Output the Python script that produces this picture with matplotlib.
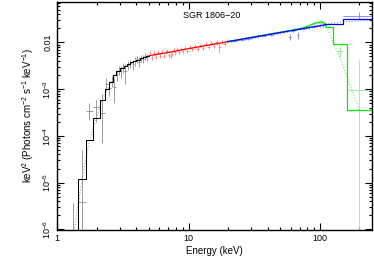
import matplotlib
matplotlib.use("Agg")
import matplotlib.pyplot as plt
import numpy as np
from matplotlib.ticker import FixedLocator, NullFormatter, LogLocator

plt.rcParams['font.family'] = ['Liberation Sans', 'DejaVu Sans']
plt.rcParams['mathtext.fontset'] = 'custom'
plt.rcParams['mathtext.rm'] = 'Liberation Sans'
plt.rcParams['mathtext.it'] = 'Liberation Sans:italic'
plt.rcParams['mathtext.bf'] = 'Liberation Sans:bold'

# --- low-energy (black) data ---
e_blk = [1.32, 1.55, 1.75, 1.98, 2.20, 2.35, 2.50, 2.62, 2.72, 2.85, 2.95, 3.05,
         3.15, 3.30, 3.45, 3.60, 3.75, 3.90, 4.05, 4.20, 4.35, 4.50, 4.65, 4.85]
v_blk = [1.2e-6, 3.9e-6, 3.4e-4, 4.2e-4, 3.1e-4, 1.3e-3, 1.05e-3, 1.5e-3, 1.1e-3, 2.0e-3,
         2.6e-3, 2.4e-3, 2.9e-3, 2.4e-3, 3.3e-3, 3.6e-3, 3.4e-3, 4.0e-3, 4.4e-3, 3.9e-3,
         4.6e-3, 4.5e-3, 5.0e-3, 4.8e-3]
v_blk_lo = [1e-8, 1e-8, 2.2e-4, 2.0e-4, 7e-5, 9e-4, 7e-4, 1.1e-3, 5e-4, 1.5e-3, 2.0e-3, 1.7e-3,
            2.2e-3, 1.3e-3, 2.6e-3, 2.9e-3, 2.6e-3, 3.2e-3, 3.6e-3, 3.0e-3, 3.8e-3, 3.7e-3,
            4.2e-3, 4.0e-3]
v_blk_hi = [3.7e-6, 5e-5, 5e-4, 6e-4, 8e-4, 1.7e-3, 1.5e-3, 1.9e-3, 1.7e-3, 2.5e-3, 3.2e-3,
            3.1e-3, 3.6e-3, 3.4e-3, 4.0e-3, 4.3e-3, 4.2e-3, 4.8e-3, 5.2e-3, 4.8e-3, 5.4e-3,
            5.3e-3, 5.8e-3, 5.6e-3]
e_blk_lo = [1.32, 1.44, 1.65, 1.87, 2.10, 2.30, 2.42, 2.56, 2.68, 2.78, 2.90, 3.00,
            3.10, 3.22, 3.38, 3.52, 3.68, 3.82, 3.98, 4.12, 4.28, 4.42, 4.58, 4.75]
e_blk_hi = [1.32, 1.67, 1.87, 2.10, 2.30, 2.42, 2.56, 2.68, 2.78, 2.90, 3.00, 3.10,
            3.22, 3.38, 3.52, 3.68, 3.82, 3.98, 4.12, 4.28, 4.42, 4.58, 4.75, 4.95]

blk_edges = [1.45, 1.65, 1.87, 2.10, 2.30, 2.50, 2.68, 2.80, 3.0, 3.2, 3.4, 3.6, 3.8,
             4.0, 4.25, 4.5, 4.75, 5.0]
blk_step = [1.17e-5, 8.0e-5, 2.36e-4, 5.9e-4, 1.03e-3, 1.44e-3, 2.0e-3, 2.4e-3, 2.8e-3,
            3.15e-3, 3.5e-3, 3.8e-3, 4.05e-3, 4.3e-3, 4.6e-3, 4.85e-3, 5.1e-3]
e_blk_dot = [1.33, 1.55, 1.76, 1.98, 2.20, 2.40, 2.60, 2.80]
v_blk_dot = [8e-7, 1.2e-5, 8e-5, 2.4e-4, 5.9e-4, 1.0e-3, 1.45e-3, 2.1e-3]

# --- red data ---
e_red = [5.1, 5.3, 5.5, 5.7, 5.9, 6.1, 6.3, 6.5, 6.7, 6.9, 7.1, 7.3, 7.5, 7.7, 7.9, 8.2,
         8.5, 8.8, 9.1, 9.4, 9.8, 10.2, 10.7, 11.2, 11.7, 12.3, 12.9, 13.5, 14.2, 14.9,
         15.6, 16.4, 17.2, 18.0, 18.9, 19.7]
v_red = [5.9e-3, 4.7e-3, 5.9e-3, 4.9e-3, 6.2e-3, 5.1e-3, 6.4e-3, 5.2e-3, 6.3e-3, 6.6e-3,
         5.5e-3, 5.2e-3, 5.6e-3, 6.9e-3, 6.1e-3, 7.1e-3, 6.2e-3, 7.3e-3, 6.4e-3, 7.5e-3,
         6.7e-3, 7.9e-3, 7.1e-3, 8.3e-3, 7.3e-3, 8.6e-3, 7.7e-3, 9.1e-3, 8.1e-3, 9.7e-3,
         8.5e-3, 1.0e-2, 7.8e-3, 1.03e-2, 9.4e-3, 1.08e-2]
err_red = [5e-4, 5e-4, 5e-4, 5e-4, 6e-4, 5e-4, 6e-4, 5e-4, 6e-4, 6e-4, 6e-4, 6e-4, 6e-4,
           6e-4, 6e-4, 6e-4, 6e-4, 7e-4, 7e-4, 7e-4, 7e-4, 7e-4, 7e-4, 8e-4, 8e-4, 8e-4,
           8e-4, 9e-4, 9e-4, 1.0e-3, 1.0e-3, 1.1e-3, 2.0e-3, 1.1e-3, 1.1e-3, 1.1e-3]
e_red_mod = [5.0, 7.0, 10.0, 14.0, 20.0]
v_red_mod = [5.2e-3, 6.1e-3, 7.35e-3, 8.7e-3, 1.04e-2]

# --- blue data ---
e_blu = [21, 22.5, 24, 25.5, 27, 28.5, 30, 32, 34, 36, 38, 40, 42.5, 45, 47.5, 50, 53, 56,
         59, 62, 65, 68, 71, 75, 79, 83, 87, 91, 95, 100, 105]
v_blu = [1.08e-2, 1.09e-2, 1.15e-2, 1.14e-2, 1.20e-2, 1.21e-2, 1.24e-2, 1.33e-2, 1.34e-2,
         1.40e-2, 1.39e-2, 1.49e-2, 1.47e-2, 1.56e-2, 1.57e-2, 1.64e-2, 1.66e-2, 1.75e-2,
         1.30e-2, 1.79e-2, 1.88e-2, 1.45e-2, 1.95e-2, 1.97e-2, 2.07e-2, 2.09e-2, 2.16e-2,
         2.18e-2, 2.24e-2, 2.28e-2, 2.35e-2]
err_blu = [5e-4, 5e-4, 5e-4, 5e-4, 6e-4, 6e-4, 6e-4, 7e-4, 7e-4, 7e-4, 8e-4, 8e-4, 8e-4,
           9e-4, 9e-4, 1.0e-3, 1.0e-3, 1.1e-3, 2.0e-3, 1.1e-3, 1.2e-3, 2.5e-3, 1.2e-3,
           1.3e-3, 1.3e-3, 1.4e-3, 1.4e-3, 1.5e-3, 1.5e-3, 1.6e-3, 1.7e-3]
e_blu_mod = [20, 30, 40, 50, 60, 70, 80, 90, 100, 110]
v_blu_mod = [1.04e-2, 1.27e-2, 1.46e-2, 1.63e-2, 1.78e-2, 1.92e-2, 2.05e-2, 2.17e-2,
             2.28e-2, 2.39e-2]
blu_edges = [110, 149, 250]
blu_step = [2.45e-2, 3.1e-2]
e_blu_dot = [110, 150, 250]
v_blu_dot = [2.45e-2, 2.75e-2, 3.0e-2]

# --- green data ---
e_grn = [22, 25, 28, 31, 34, 37, 40, 44, 48, 52, 56, 60, 64, 68, 72, 76, 80, 84, 88, 92,
         96, 100, 104, 108, 112]
v_grn = [1.10e-2, 1.17e-2, 1.26e-2, 1.31e-2, 1.40e-2, 1.43e-2, 1.50e-2, 1.54e-2, 1.63e-2,
         1.66e-2, 1.73e-2, 1.80e-2, 1.87e-2, 1.93e-2, 2.02e-2, 2.12e-2, 2.25e-2, 2.40e-2,
         2.55e-2, 2.68e-2, 2.76e-2, 2.80e-2, 2.72e-2, 2.62e-2, 2.35e-2]
err_grn = [6e-4, 6e-4, 7e-4, 7e-4, 8e-4, 8e-4, 9e-4, 9e-4, 1.0e-3, 1.0e-3, 1.1e-3, 1.1e-3,
           1.2e-3, 1.2e-3, 1.3e-3, 1.3e-3, 1.4e-3, 1.4e-3, 1.5e-3, 1.5e-3, 1.6e-3, 1.6e-3,
           1.7e-3, 1.8e-3, 2.0e-3]
e_grn_mod = [20, 40, 60, 70, 80, 90, 95, 100, 105, 110]
v_grn_mod = [1.05e-2, 1.48e-2, 1.81e-2, 1.97e-2, 2.2e-2, 2.5e-2, 2.65e-2, 2.75e-2,
             2.7e-2, 2.55e-2]
grn_edges = [112, 125, 160, 250]
grn_step = [2.1e-2, 9.1e-3, 3.56e-4]
e_grn_dot = [110, 143, 200]
v_grn_dot = [2.5e-2, 4.5e-3, 3.5e-4]

# high energy single bins: energy, e_lo, e_hi, value, v_lo, v_hi
hi_blu = [198, 149, 250, 3.66e-2, 3.0e-2, 4.5e-2]
hi_grn = [[143, 136, 150, 6.5e-3, 4.9e-3, 8.5e-3],
          [200, 165, 250, 9.8e-4, 1e-8, 4.3e-3]]

fig = plt.figure(figsize=(3.74, 2.59), dpi=100)
ax = fig.add_axes([0.153, 0.112, 0.842, 0.880])
ax.set_xscale('log')
ax.set_yscale('log')


def half_widths(e):
    e = np.asarray(e, float)
    d = np.diff(e) / 2
    return np.concatenate([[d[0]], d]), np.concatenate([d, [d[-1]]])


ew = dict(fmt='none', elinewidth=0.6, capsize=0)

# black
e = np.array(e_blk); v = np.array(v_blk)
ax.errorbar(e, v, xerr=[e - np.array(e_blk_lo), np.array(e_blk_hi) - e],
            yerr=[v - np.array(v_blk_lo), np.array(v_blk_hi) - v], ecolor='#8c8c8c', **ew)
ax.plot(e_blk_dot, v_blk_dot, ls=':', color='#aaaaaa', lw=0.8)
ax.step([blk_edges[0]] + blk_edges, [1e-8] + blk_step + [blk_step[-1]], where='post',
        color='black', lw=0.75)

# red
e = np.array(e_red); lo, hi = half_widths(e_red)
ax.errorbar(e, v_red, xerr=[lo, hi], yerr=err_red, ecolor='#ff8080', **ew)
ax.plot(e_red_mod, v_red_mod, color='red', lw=0.9)

# green
e = np.array(e_grn); lo, hi = half_widths(e_grn)
ax.errorbar(e, v_grn, xerr=[lo, hi], yerr=err_grn, ecolor='#80ff80', **ew)
for p in hi_grn:
    ax.errorbar([p[0]], [p[3]], xerr=[[p[0] - p[1]], [p[2] - p[0]]],
                yerr=[[p[3] - p[4]], [p[5] - p[3]]], ecolor='#90f090', **ew)
ax.plot(e_grn_dot, v_grn_dot, ls=':', color='#70e070', lw=0.8)
ax.plot(e_grn_mod + [grn_edges[0]], v_grn_mod + [grn_step[0]], color='#00ee00', lw=0.9)
ax.step(grn_edges, grn_step + [grn_step[-1]], where='post', color='#00ee00', lw=0.9)

# blue
e = np.array(e_blu); lo, hi = half_widths(e_blu)
ax.errorbar(e, v_blu, xerr=[lo, hi], yerr=err_blu, ecolor='#8080ff', **ew)
p = hi_blu
ax.errorbar([p[0]], [p[3]], xerr=[[p[0] - p[1]], [p[2] - p[0]]],
            yerr=[[p[3] - p[4]], [p[5] - p[3]]], ecolor='#8080ff', **ew)
ax.plot(e_blu_dot, v_blu_dot, ls=':', color='#9090ff', lw=0.8)
ax.plot(e_blu_mod, v_blu_mod, color='blue', lw=0.9)
ax.step(blu_edges, blu_step + [blu_step[-1]], where='post', color='blue', lw=0.9)

ax.set_xlim(1, 250)
ax.set_ylim(9.7e-7, 0.073)

ax.xaxis.set_major_locator(FixedLocator([1, 10, 100]))
ax.set_xticklabels(['1', '10', '100'])
ax.xaxis.set_minor_locator(LogLocator(base=10, subs=np.arange(2, 10)))
ax.xaxis.set_minor_formatter(NullFormatter())
ax.yaxis.set_major_locator(FixedLocator([1e-6, 1e-5, 1e-4, 1e-3, 1e-2]))
ax.set_yticklabels([r'10$^{-6}$', r'10$^{-5}$', r'10$^{-4}$', r'10$^{-3}$', '0.01'],
                   rotation=90, va='center')
ax.yaxis.set_minor_locator(LogLocator(base=10, subs=np.arange(2, 10)))
ax.yaxis.set_minor_formatter(NullFormatter())
ax.tick_params(which='both', direction='in', top=True, right=True, labelsize=6.5,
               width=0.8, pad=3)
ax.tick_params(which='major', length=5)
ax.tick_params(which='minor', length=2.5)
for s in ax.spines.values():
    s.set_linewidth(1.0)

ax.text(0.49, 0.94, 'SGR 1806\u221220', transform=ax.transAxes, ha='center', va='center',
        fontsize=6.5)
ax.set_xlabel('Energy (keV)', fontsize=7, labelpad=2)
ax.set_ylabel(r'keV$^{2}$ (Photons cm$^{-2}$ s$^{-1}$ keV$^{-1}$)', fontsize=7, labelpad=4)

fig.savefig('out.png', dpi=100)
